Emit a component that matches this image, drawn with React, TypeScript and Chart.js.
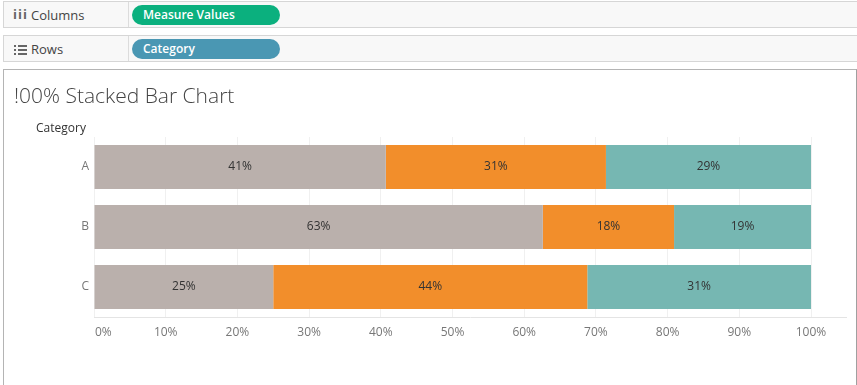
import React, { useEffect, useRef } from "react";
import { Chart, registerables } from "chart.js";

Chart.register(...registerables);

const categories = ["A", "B", "C"];
const seriesNames = ["Grey", "Orange", "Teal"];
const greyValues = [40.7, 62.6, 25.0];
const orangeValues = [30.7, 18.3, 43.8];
const tealValues = [28.6, 19.1, 31.2];
const seriesColors = ["#BAB0AC", "#F28E2B", "#76B7B2"];
const tickValues = [0, 10, 20, 30, 40, 50, 60, 70, 80, 90, 100];

const FONT = "'Open Sans', 'Noto Sans', sans-serif";

const extrasPlugin = {
  id: "extras",
  afterDatasetsDraw(chart: any) {
    const ctx = chart.ctx;
    const area = chart.chartArea;
    const xScale = chart.scales.x;
    ctx.save();
    // axis line extended past plot
    ctx.strokeStyle = "#e4e4e4";
    ctx.lineWidth = 1;
    ctx.beginPath();
    ctx.moveTo(area.left, Math.round(area.bottom) + 0.5);
    ctx.lineTo(area.right + 36, Math.round(area.bottom) + 0.5);
    ctx.stroke();
    // x tick labels
    ctx.font = `12px ${FONT}`;
    ctx.fillStyle = "#777777";
    ctx.textBaseline = "middle";
    tickValues.forEach((v, i) => {
      const px = xScale.getPixelForValue(v);
      if (i === 0) {
        ctx.textAlign = "left";
        ctx.fillText(v + "%", px + 1, area.bottom + 16);
      } else {
        ctx.textAlign = "center";
        ctx.fillText(v + "%", px, area.bottom + 16);
      }
    });
    // data labels
    ctx.fillStyle = "#333333";
    ctx.textAlign = "center";
    chart.data.datasets.forEach((ds: any, di: number) => {
      const meta = chart.getDatasetMeta(di);
      meta.data.forEach((el: any, i: number) => {
        const v = ds.data[i];
        const cx = (el.x + el.base) / 2;
        ctx.fillText(Math.round(v) + "%", cx, el.y);
      });
    });
    ctx.restore();
  },
};

function ChartCanvas() {
  const ref = useRef<HTMLCanvasElement | null>(null);
  useEffect(() => {
    if (!ref.current) return;
    const values = [greyValues, orangeValues, tealValues];
    const chart = new Chart(ref.current, {
      type: "bar",
      data: {
        labels: categories,
        datasets: seriesNames.map((name, i) => ({
          label: name,
          data: values[i],
          backgroundColor: seriesColors[i],
          borderWidth: 0,
          categoryPercentage: 0.733,
          barPercentage: 1,
        })),
      },
      options: {
        indexAxis: "y",
        animation: false,
        responsive: false,
        maintainAspectRatio: false,
        layout: { padding: { left: 0, top: 137, right: 46, bottom: 0 } },
        plugins: {
          legend: { display: false },
          tooltip: { enabled: false },
          title: { display: false },
        },
        scales: {
          x: {
            stacked: true,
            min: 0,
            max: 100,
            afterBuildTicks: (scale: any) => {
              scale.ticks = tickValues.map((v) => ({ value: v }));
            },
            afterFit: (scale: any) => {
              scale.height = 68;
            },
            ticks: {
              display: false,
              callback: (v: any) => v + "%",
            },
            grid: { color: "#f0f0f0", drawTicks: false },
            border: { display: false },
          },
          y: {
            stacked: true,
            afterFit: (scale: any) => {
              scale.width = 94;
            },
            ticks: {
              color: "#777777",
              font: { family: FONT, size: 12 },
              padding: 5,
            },
            grid: { display: false, drawTicks: false },
            border: { display: false },
          },
        },
      },
      plugins: [extrasPlugin],
    } as any);
    return () => chart.destroy();
  }, []);
  return (
    <canvas
      ref={ref}
      width={857}
      height={385}
      style={{ position: "absolute", left: 0, top: 0, width: 857, height: 385 }}
    />
  );
}

function ListIcon() {
  const rows = [0, 1, 2];
  return (
    <div style={{ position: "absolute", left: 10, top: 9, width: 14, height: 11 }}>
      {rows.map((r) => (
        <React.Fragment key={r}>
          <div style={{ position: "absolute", left: 0, top: r * 4, width: 2, height: 2, background: "#666" }} />
          <div style={{ position: "absolute", left: 4, top: r * 4, width: 9, height: 2, background: "#666" }} />
        </React.Fragment>
      ))}
    </div>
  );
}

function Shelf(props: { top: number; label: string; pill: string; color: string; icon: React.ReactNode }) {
  return (
    <div
      style={{
        position: "absolute",
        left: 3,
        top: props.top,
        width: 854,
        height: 27,
        background: "#f8f8f8",
        borderTop: "1px solid #d6d6d6",
        borderBottom: "1px solid #d6d6d6",
        borderLeft: "1px solid #d6d6d6",
        boxSizing: "border-box",
        fontFamily: FONT,
      }}
    >
      {props.icon}
      <div style={{ position: "absolute", left: 27, top: 4, fontSize: 13, color: "#444", lineHeight: "18px" }}>
        {props.label}
      </div>
      <div style={{ position: "absolute", left: 124, top: 0, width: 1, height: 25, background: "#dcdcdc" }} />
      <div
        style={{
          position: "absolute",
          left: 128,
          top: 3,
          width: 148,
          height: 20,
          borderRadius: 10,
          background: props.color,
          color: "#ffffff",
          fontSize: 12,
          fontWeight: 600,
          lineHeight: "20px",
          paddingLeft: 11,
          boxSizing: "border-box",
        }}
      >
        {props.pill}
      </div>
    </div>
  );
}

export default function App() {
  return (
    <div style={{ position: "fixed", left: 0, top: 0, width: 857, height: 385, background: "#fff", overflow: "hidden" }}>
      <Shelf
        top={1}
        label="Columns"
        pill="Measure Values"
        color="#0bb07e"
        icon={
          <div style={{ position: "absolute", left: 9, top: 3, fontSize: 13, fontWeight: 700, color: "#666", letterSpacing: 1, lineHeight: "18px" }}>
            iii
          </div>
        }
      />
      <Shelf top={35} label="Rows" pill="Category" color="#4a97b3" icon={<ListIcon />} />
      <div
        style={{
          position: "absolute",
          left: 3,
          top: 69,
          width: 854,
          height: 330,
          borderTop: "1px solid #b4b4b4",
          borderLeft: "1px solid #b4b4b4",
          borderRight: "1px solid #a0a0a0",
          boxSizing: "border-box",
        }}
      />
      <ChartCanvas />
      <div
        style={{
          position: "absolute",
          left: 14,
          top: 80,
          fontFamily: FONT,
          fontWeight: 300,
          fontSize: 21,
          color: "#444",
          lineHeight: "30px",
          whiteSpace: "nowrap",
        }}
      >
        !00% Stacked Bar Chart
      </div>
      <div
        style={{
          position: "absolute",
          left: 36,
          top: 119,
          fontFamily: FONT,
          fontSize: 12,
          fontWeight: 500,
          color: "#333",
          lineHeight: "18px",
        }}
      >
        Category
      </div>
    </div>
  );
}
